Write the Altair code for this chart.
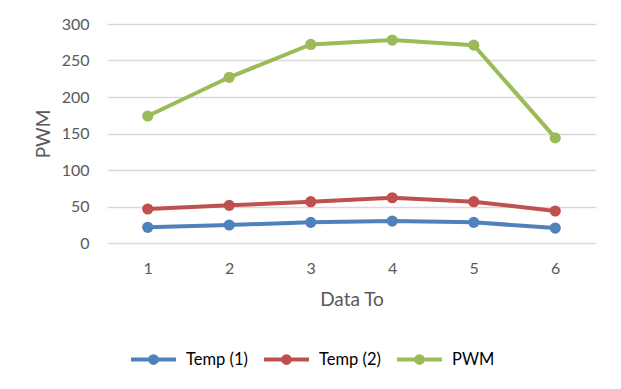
import altair as alt
import pandas as pd

data_to = [1, 2, 3, 4, 5, 6]
temp1 = [21.5, 24.7, 28.3, 30, 28.3, 20.5]
temp2 = [46.6, 51.6, 56.6, 62, 56.6, 43.8]
pwm = [174, 227, 272, 278, 271, 144]

series = ["Temp (1)", "Temp (2)", "PWM"]
colors = ["#4F81BD", "#C0504D", "#9BBB59"]

rows = []
for name, vals in zip(series, [temp1, temp2, pwm]):
    for x, v in zip(data_to, vals):
        rows.append({"Data To": x, "value": v, "series": name})
df = pd.DataFrame(rows)

FONT = "Lato"
legend_path = "M-1,0H1 M0.15,0 A0.15,0.15 0 1 1 -0.15,0 A0.15,0.15 0 1 1 0.15,0"

chart = alt.Chart(df).mark_line(
    strokeWidth=4,
    point=alt.OverlayMarkDef(filled=True, size=125, opacity=1),
).encode(
    x=alt.X("Data To:O", title="Data To",
            axis=alt.Axis(labelAngle=0, ticks=False, domain=False, grid=False,
                          labelFontSize=16, labelColor="#595959", labelPadding=17,
                          titleFontSize=19, titleColor="#595959", titleFontWeight="normal",
                          titlePadding=14, labelFont=FONT, titleFont=FONT)),
    y=alt.Y("value:Q", title="PWM",
            scale=alt.Scale(domain=[0, 300], nice=False),
            axis=alt.Axis(values=[0, 50, 100, 150, 200, 250, 300], ticks=False, domain=False,
                          gridColor="#D9D9D9", gridWidth=1.3,
                          labelFontSize=16, labelColor="#595959", labelPadding=18,
                          titleFontSize=19, titleColor="#595959", titleFontWeight="normal",
                          titlePadding=8, labelFont=FONT, titleFont=FONT)),
    color=alt.Color("series:N", sort=series,
                    scale=alt.Scale(domain=series, range=colors),
                    legend=alt.Legend(title=None, orient="none", direction="horizontal",
                                      legendX=22, legendY=311,
                                      symbolType=legend_path, symbolSize=2025,
                                      symbolStrokeWidth=4, labelFontSize=16.5,
                                      labelColor="#000000", labelFont=FONT,
                                      labelOffset=8, columnPadding=8)),
).properties(
    width=489, height=219,
    autosize=alt.AutoSizeParams(type="none"),
    padding={"left": 99, "top": 16, "right": 17, "bottom": 138},
).configure_view(stroke=None)

chart.save("out.html", embed_options={"renderer": "svg", "actions": False})
